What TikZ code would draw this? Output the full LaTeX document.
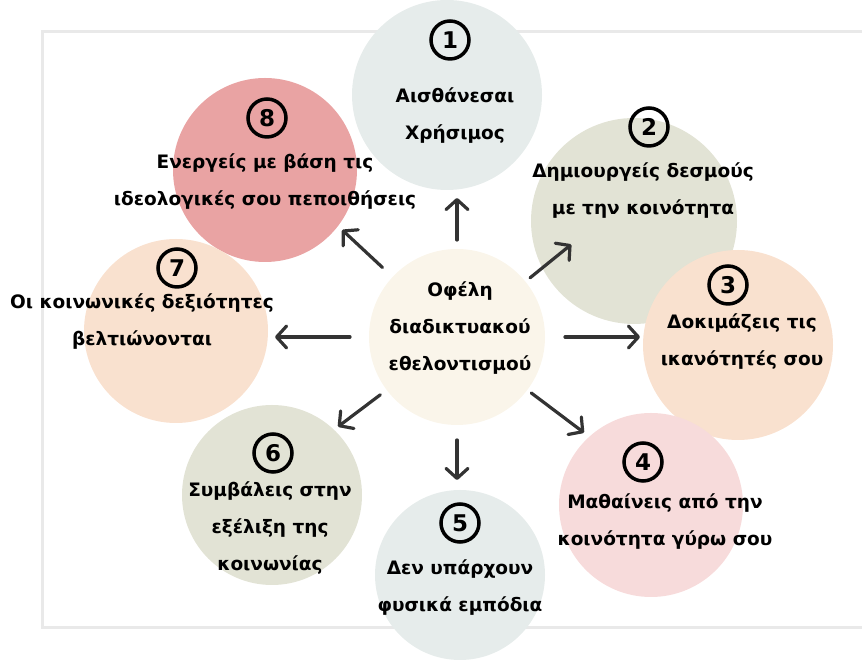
\documentclass[tikz,border=0pt]{standalone}
\usepackage{fontspec}
\setmainfont{DejaVu Sans}
\usetikzlibrary{arrows.meta}

\definecolor{mist}{HTML}{E6ECEB}
\definecolor{rose}{HTML}{E9A3A3}
\definecolor{sage}{HTML}{E2E3D5}
\definecolor{peach}{HTML}{F9E1CF}
\definecolor{cream}{HTML}{FAF5EA}
\definecolor{blush}{HTML}{F7DBDB}
\definecolor{frame}{HTML}{E9E9E9}
\definecolor{ink}{HTML}{333333}

\tikzset{
  disc/.style={circle, inner sep=0pt, fill=#1},
  badge/.style={circle, draw=black, line width=3.5pt, minimum size=38pt, inner sep=0pt,
    font=\bfseries\fontsize{23}{23}\selectfont},
  blurb/.style={align=center, font=\bfseries\fontsize{18.5}{37}\selectfont},
  spoke/.style={draw=ink, line width=3.2pt, line cap=round,
    -{Straight Barb[length=10pt,width=22pt,line cap=round,line join=round]}}
}

\begin{document}
\begin{tikzpicture}[x=1pt,y=1pt]
\useasboundingbox (0,0) rectangle (862,660);

% frame
\draw[frame, line width=3pt] (862,628) -- (42,628) -- (42,32) -- (862,32);

% bubbles
\node[disc=mist,  minimum size=190pt] (c1) at (447,565) {};
\node[disc=rose,  minimum size=184pt] (c8) at (265,490) {};
\node[disc=sage,  minimum size=206pt] (c2) at (634,439) {};
\node[disc=peach, minimum size=184pt] (c7) at (176,329) {};
\node[disc=cream, minimum size=176pt] (o)  at (457,323) {};
\node[disc=peach, minimum size=190pt] (c3) at (738,315) {};
\node[disc=sage,  minimum size=180pt] (c6) at (272,165) {};
\node[disc=blush, minimum size=184pt] (c4) at (651,155) {};
\node[disc=mist,  minimum size=170pt] (c5) at (460,85) {};

% numbers
\node[badge] (n1) at (450,620) {1};
\node[badge] (n2) at (649,533) {2};
\node[badge] (n3) at (728,375) {3};
\node[badge] (n4) at (643,198) {4};
\node[badge] (n5) at (460,137) {5};
\node[badge] (n6) at (273,207) {6};
\node[badge] (n7) at (177,392) {7};
\node[badge] (n8) at (267,542) {8};

% texts
\node[blurb] (t0) at (460,332) {Οφέλη\\διαδικτυακού\\εθελοντισμού};
\node[blurb] (t1) at (455,544) {Αισθάνεσαι\\Χρήσιμος};
\node[blurb] (t2) at (643,469) {Δημιουργείς δεσμούς\\με την κοινότητα};
\node[blurb] (t3) at (742,318) {Δοκιμάζεις τις\\ικανότητές σου};
\node[blurb] (t4) at (665,138) {Μαθαίνεις από την\\κοινότητα γύρω σου};
\node[blurb] (t5) at (460,72)  {Δεν υπάρχουν\\φυσικά εμπόδια};
\node[blurb] (t6) at (270,132) {Συμβάλεις στην\\εξέλιξη της\\κοινωνίας};
\node[blurb] (t7) at (142,338) {Οι κοινωνικές δεξιότητες\\βελτιώνονται};
\node[blurb] (t8) at (265,478) {Ενεργείς με βάση τις\\ιδεολογικές σου πεποιθήσεις};

% spokes
\path (o) ++(90:97)   coordinate (s1) ++(90:42)   coordinate (e1);
\path (o) ++(39:94)   coordinate (s2) ++(39:53)   coordinate (e2);
\path (o) ++(0:108)   coordinate (s3) ++(0:75)    coordinate (e3);
\path (o) ++(-37:93)  coordinate (s4) ++(-37:66)  coordinate (e4);
\path (o) ++(-90:103) coordinate (s5) ++(-90:40)  coordinate (e5);
\path (o) ++(217:96)  coordinate (s6) ++(217:53)  coordinate (e6);
\path (o) ++(180:107) coordinate (s7) ++(180:75)  coordinate (e7);
\path (o) ++(137:102) coordinate (s8) ++(137:55)  coordinate (e8);

\foreach \i in {1,...,8}
  \draw[spoke] (s\i) -- (e\i);

\end{tikzpicture}
\end{document}
